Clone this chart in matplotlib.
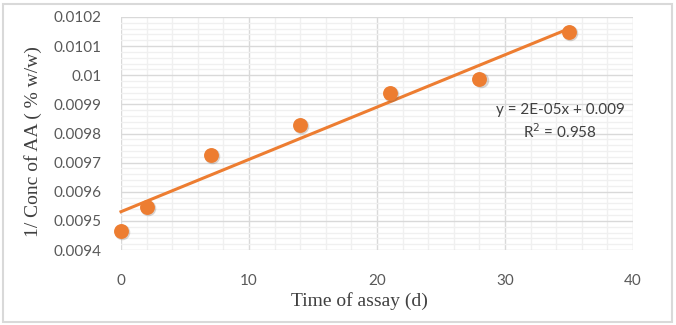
import numpy as np
import matplotlib
matplotlib.use("Agg")
import matplotlib.pyplot as plt
from matplotlib.patches import Rectangle
from matplotlib.ticker import MultipleLocator

# data
days = [0, 2, 7, 14, 21, 28, 35]
inv_conc = [0.009465, 0.009547, 0.009726, 0.00983, 0.009938, 0.009988, 0.010148]
eq_text = "y = 2E-05x + 0.009"
r2_text = "R$^2$ = 0.958"

orange = "#ED7D31"
tick_col = "#595959"

fig = plt.figure(figsize=(6.76, 3.25), dpi=100)
fig.patches.append(Rectangle((3 / 676, 3 / 325), 669 / 676, 318 / 325,
                             transform=fig.transFigure, fill=False,
                             edgecolor="#d9d9d9", linewidth=1.5))
ax = fig.add_axes([121 / 676, 75 / 325, 512 / 676, 233 / 325])

ax.set_xlim(0, 40)
ax.set_ylim(0.0094, 0.0102)
ax.xaxis.set_major_locator(MultipleLocator(10))
ax.xaxis.set_minor_locator(MultipleLocator(2))
ax.yaxis.set_major_locator(MultipleLocator(0.0001))
ax.yaxis.set_minor_locator(MultipleLocator(0.00002))
ax.yaxis.set_major_formatter(plt.FuncFormatter(
    lambda v, p: "0.01" if abs(v - 0.01) < 1e-9 else f"{v:.4f}"))
ax.grid(which="major", color="#d9d9d9", linewidth=1)
ax.grid(which="minor", color="#f0f0f0", linewidth=1)
ax.set_axisbelow(True)
for s in ax.spines.values():
    s.set_visible(False)
ax.tick_params(which="both", length=0)
ax.tick_params(axis="x", pad=17, labelsize=11, labelcolor=tick_col)
ax.tick_params(axis="y", pad=14, labelsize=11, labelcolor=tick_col)
for lab in ax.get_xticklabels() + ax.get_yticklabels():
    lab.set_family("Lato")

# trendline from a linear fit
k, b = np.polyfit(days, inv_conc, 1)
xs = np.array([0, 35])
ax.plot(xs, k * xs + b, color=orange, linewidth=2.2, zorder=3, clip_on=False)

# markers with a soft shadow
ax.scatter(np.array(days) + 0.1, np.array(inv_conc) - 0.000003, s=125,
           color="#6b5444", alpha=0.25, linewidths=0, zorder=4, clip_on=False)
ax.scatter(days, inv_conc, s=115, color=orange, linewidths=0, zorder=5, clip_on=False)

ax.text(0.858, 0.601, eq_text, transform=ax.transAxes, ha="center", va="center",
        fontsize=11, color="#404040", family="Lato")
ax.text(0.858, 0.506, r2_text, transform=ax.transAxes, ha="center", va="center",
        fontsize=11, color="#404040", family="Lato")

fig.text(359 / 676, 1 - 301 / 325, "Time of assay (d)", ha="center", va="center",
         fontsize=14, color="#404040", family="Liberation Serif")
fig.text(33 / 676, 1 - 142 / 325, "1/ Conc of AA ( % w/w)", ha="center", va="center",
         rotation=90, fontsize=14, color="#404040", family="Liberation Serif")

fig.savefig("out.png", dpi=100)
